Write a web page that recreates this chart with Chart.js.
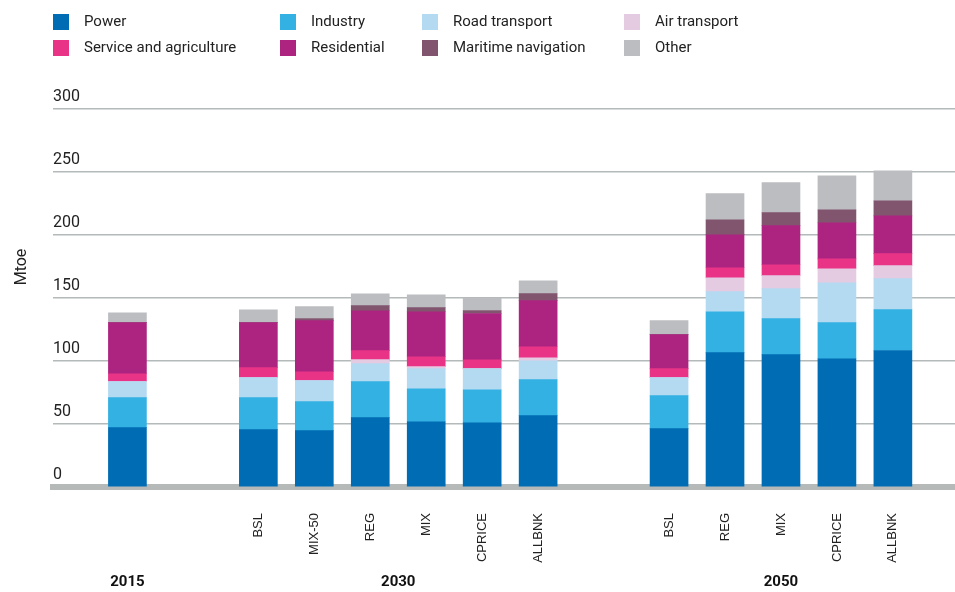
<!DOCTYPE html>
<html>
<head>
<meta charset="utf-8">
<title>Final energy demand by sector</title>
<script src="https://cdn.jsdelivr.net/npm/chart.js@4"></script>
<style>
  html, body { margin: 0; padding: 0; background: #fff; }
</style>
</head>
<body>
<canvas id="myChart" width="955" height="592"></canvas>
<script>
// Data (Mtoe)
var years = ["2015", "2030", "2050"];
var scenarios = ["", "BSL", "MIX-50", "REG", "MIX", "CPRICE", "ALLBNK", "BSL", "REG", "MIX", "CPRICE", "ALLBNK"];
var scenarioYear = [0, 1, 1, 1, 1, 1, 1, 2, 2, 2, 2, 2];

var sectors = ["Power", "Industry", "Road transport", "Air transport",
  "Service and agriculture", "Residential", "Maritime navigation", "Other"];

var power       = [47.1, 45.5, 44.7, 55.0, 51.8, 51.0, 56.6, 46.3, 106.6, 105.0, 101.8, 108.3];
var industry    = [23.8, 25.4, 23.0, 28.6, 26.2, 26.2, 28.6, 26.2, 32.5, 28.6, 28.6, 32.5];
var road        = [12.7, 15.9, 16.7, 14.3, 15.9, 16.7, 15.0, 14.3, 15.9, 23.8, 31.7, 24.6];
var air         = [0, 0, 0, 3.2, 1.6, 0, 2.4, 0, 11.1, 10.3, 11.1, 10.3];
var service     = [6.3, 7.9, 7.1, 7.1, 7.9, 7.1, 8.7, 7.1, 7.9, 8.7, 7.9, 9.5];
var residential = [40.5, 35.7, 40.6, 31.7, 35.7, 36.7, 36.6, 27.0, 26.2, 31.0, 28.6, 30.0];
var maritime    = [0, 0, 1.6, 4.0, 3.2, 2.4, 5.6, 0, 11.9, 10.3, 10.3, 11.9];
var other       = [7.9, 10.3, 9.4, 9.5, 10.3, 9.8, 10.2, 11.1, 20.7, 24.0, 27.0, 23.8];

var series = [power, industry, road, air, service, residential, maritime, other];
var sectorColors = ["#006cb4", "#34b1e3", "#b4daf2", "#e5cbe2",
  "#e83386", "#ad2480", "#82556f", "#bcbdc1"];

// spacing: one slot per bar, plus an extra gap between years
var yearGap = 1.34;
var xPos = scenarios.map(function (s, i) { return i + scenarioYear[i] * yearGap; });
var yearPos = years.map(function (y, g) {
  var p = xPos.filter(function (v, i) { return scenarioYear[i] === g; });
  return (p[0] + p[p.length - 1]) / 2;
});
var xMin = -1.33, xMax = 14.79;

var datasets = series.map(function (values, k) {
  return {
    label: sectors[k],
    backgroundColor: sectorColors[k],
    borderWidth: 0,
    barThickness: 38,
    data: values.map(function (v, i) { return { x: xPos[i], y: v }; })
  };
});

// legend grid + y title
var legendCols = [53, 280, 422, 624];
var sideText = {
  id: "sideText",
  afterDraw: function (chart) {
    var ctx = chart.ctx;
    ctx.save();
    ctx.font = "15px Roboto";
    ctx.textBaseline = "middle";
    chart.data.datasets.forEach(function (ds, i) {
      var x = legendCols[i % 4];
      var y = 22 + Math.floor(i / 4) * 26;
      ctx.fillStyle = ds.backgroundColor;
      ctx.fillRect(x, y - 8, 16, 16);
      ctx.fillStyle = "#222";
      ctx.fillText(ds.label, x + 31, y);
    });
    ctx.translate(22, 267);
    ctx.rotate(-Math.PI / 2);
    ctx.textAlign = "center";
    ctx.font = "16px Roboto";
    ctx.fillText("Mtoe", 0, 0);
    ctx.restore();
  }
};

Chart.defaults.font.family = "Roboto";

new Chart("myChart", {
  type: "bar",
  data: { datasets: datasets },
  plugins: [sideText],
  options: {
    responsive: false,
    animation: false,
    devicePixelRatio: 1,
    layout: { padding: { top: 109, left: 53, right: 0, bottom: 0 } },
    plugins: {
      legend: { display: false },
      tooltip: { enabled: false }
    },
    scales: {
      x: {
        type: "linear",
        stacked: true,
        offset: false,
        weight: 0,
        min: xMin,
        max: xMax,
        grid: { display: false, drawTicks: false },
        border: { display: true, color: "#b5bab8", width: 6 },
        afterBuildTicks: function (scale) {
          scale.ticks = xPos.map(function (v) { return { value: v }; });
        },
        afterFit: function (scale) { scale.height = 80; },
        ticks: {
          autoSkip: false,
          minRotation: 90,
          maxRotation: 90,
          padding: 26,
          color: "#222",
          font: { family: "Liberation Sans", size: 13 },
          callback: function (v, i) { return scenarios[i]; }
        }
      },
      xYear: {
        type: "linear",
        position: "bottom",
        offset: false,
        weight: 1,
        min: xMin,
        max: xMax,
        grid: { display: false, drawTicks: false },
        border: { display: false },
        afterBuildTicks: function (scale) {
          scale.ticks = yearPos.map(function (v) { return { value: v }; });
        },
        afterFit: function (scale) { scale.height = 25; },
        ticks: {
          autoSkip: false,
          maxRotation: 0,
          padding: 6,
          color: "#111",
          font: { size: 15, weight: "bold" },
          callback: function (v, i) { return years[i]; }
        }
      },
      y: {
        stacked: true,
        min: 0,
        max: 300,
        border: { display: false },
        grid: { color: "#b4b9b9", lineWidth: 1.5, drawTicks: false },
        ticks: {
          stepSize: 50,
          mirror: true,
          padding: 0,
          labelOffset: -12,
          color: "#222",
          font: { size: 16 }
        }
      }
    }
  }
});
</script>
</body>
</html>
